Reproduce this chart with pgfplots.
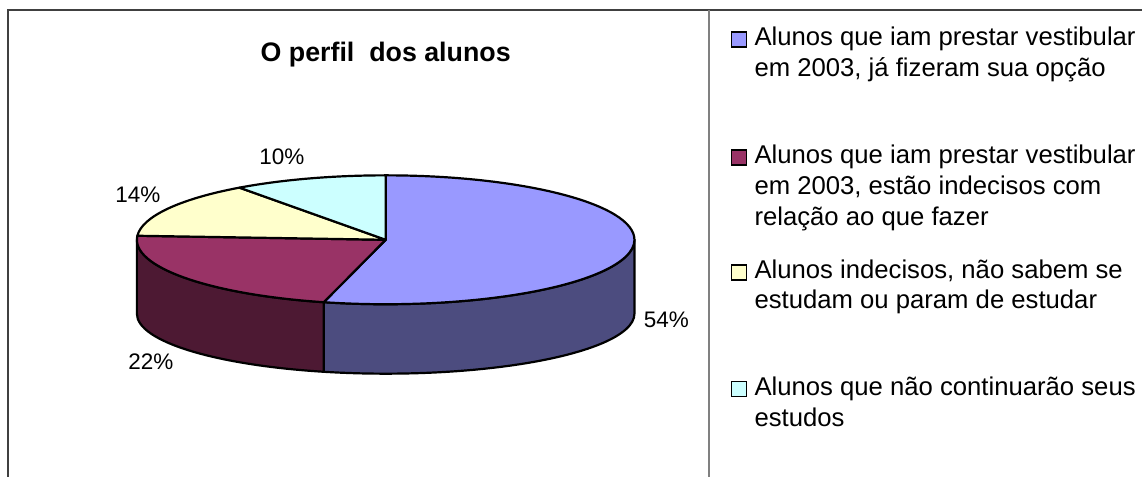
\documentclass[border=0pt]{standalone}
\usepackage{fontspec}
\setmainfont{Liberation Sans}
\usepackage{pgfplots}
\usepackage{pgfplotstable}
\pgfplotsset{compat=1.18}
\definecolor{blueTop}{HTML}{9999FF}
\definecolor{blueSide}{HTML}{4C4C7F}
\definecolor{redTop}{HTML}{993366}
\definecolor{redSide}{HTML}{4D1933}
\definecolor{yelTop}{HTML}{FFFFCC}
\definecolor{cyaTop}{HTML}{CCFFFF}
\definecolor{frameDark}{HTML}{404040}
\definecolor{frameGray}{HTML}{808080}

\pgfplotstableread{
idx value
1 54
2 22
3 14
4 10
}\piedata

\newcommand{\legfont}{\fontsize{25.7}{30}\selectfont}
\newcommand{\lblfont}{\fontsize{22.5}{26}\selectfont}
\newcommand{\ttlfont}{\fontsize{26.8}{31}\selectfont\bfseries}

\begin{document}
\begin{tikzpicture}
\pgfplotstablegetelem{0}{value}\of\piedata \edef\vA{\pgfplotsretval}
\pgfplotstablegetelem{1}{value}\of\piedata \edef\vB{\pgfplotsretval}
\pgfplotstablegetelem{2}{value}\of\piedata \edef\vC{\pgfplotsretval}
\pgfplotstablegetelem{3}{value}\of\piedata \edef\vD{\pgfplotsretval}
\pgfmathsetmacro{\tot}{\vA+\vB+\vC+\vD}
\pgfmathsetmacro{\aA}{90}
\pgfmathsetmacro{\aB}{\aA-\vA/\tot*360}
\pgfmathsetmacro{\aC}{\aB-\vB/\tot*360}
\pgfmathsetmacro{\aD}{\aC-\vC/\tot*360}
\pgfmathsetmacro{\aE}{\aD-\vD/\tot*360}
\def\cx{386}\def\cy{240}\def\ra{249}\def\rb{64.5}
\def\cyb{314}\def\rbb{60}
\begin{axis}[width=1143pt,height=477pt,scale only axis,
  xmin=0,xmax=1143,ymin=0,ymax=477,y dir=reverse,
  enlargelimits=false,hide axis,clip=false]
\addplot[draw=none] coordinates {(0,0) (1143,477)};
\path (axis cs:0,0) rectangle (axis cs:1143,477);
% frame
\draw[frameDark,line width=2pt] (axis cs:8,477) -- (axis cs:8,10) -- (axis cs:1143,10);
\draw[frameGray,line width=2pt] (axis cs:710,10) -- (axis cs:710,477);
% sides
\filldraw[fill=blueSide,draw=black,line width=2.2pt,line join=round]
  (axis cs:{\cx+\ra},\cy) -- (axis cs:{\cx+\ra},\cyb)
  arc[start angle=0,end angle=\aB,x radius=\ra pt,y radius=\rbb pt]
  -- (axis cs:{\cx+\ra*cos(\aB)},{\cy-\rb*sin(\aB)})
  arc[start angle=\aB,end angle=0,x radius=\ra pt,y radius=\rb pt] -- cycle;
\filldraw[fill=redSide,draw=black,line width=2.2pt,line join=round]
  (axis cs:{\cx-\ra},\cy) -- (axis cs:{\cx-\ra},\cyb)
  arc[start angle=-180,end angle=\aB,x radius=\ra pt,y radius=\rbb pt]
  -- (axis cs:{\cx+\ra*cos(\aB)},{\cy-\rb*sin(\aB)})
  arc[start angle=\aB,end angle=-180,x radius=\ra pt,y radius=\rb pt] -- cycle;
% tops
\filldraw[fill=blueTop,draw=black,line width=2.2pt,line join=round]
  (axis cs:\cx,\cy) -- (axis cs:{\cx+\ra*cos(\aA)},{\cy-\rb*sin(\aA)})
  arc[start angle=\aA,end angle=\aB,x radius=\ra pt,y radius=\rb pt] -- cycle;
\filldraw[fill=redTop,draw=black,line width=2.2pt,line join=round]
  (axis cs:\cx,\cy) -- (axis cs:{\cx+\ra*cos(\aB)},{\cy-\rb*sin(\aB)})
  arc[start angle=\aB,end angle=\aC,x radius=\ra pt,y radius=\rb pt] -- cycle;
\filldraw[fill=yelTop,draw=black,line width=2.2pt,line join=round]
  (axis cs:\cx,\cy) -- (axis cs:{\cx+\ra*cos(\aC)},{\cy-\rb*sin(\aC)})
  arc[start angle=\aC,end angle=\aD,x radius=\ra pt,y radius=\rb pt] -- cycle;
\filldraw[fill=cyaTop,draw=black,line width=2.2pt,line join=round]
  (axis cs:\cx,\cy) -- (axis cs:{\cx+\ra*cos(\aD)},{\cy-\rb*sin(\aD)})
  arc[start angle=\aD,end angle=\aE,x radius=\ra pt,y radius=\rb pt] -- cycle;
% labels
\node[anchor=base,inner sep=0pt,font=\lblfont] at (axis cs:667,328) {54\%};
\node[anchor=base,inner sep=0pt,font=\lblfont] at (axis cs:151,370) {22\%};
\node[anchor=base,inner sep=0pt,font=\lblfont] at (axis cs:138,203) {14\%};
\node[anchor=base,inner sep=0pt,font=\lblfont] at (axis cs:282,165) {10\%};
% title
\node[anchor=base,inner sep=0pt,font=\ttlfont] at (axis cs:386,62) {O perfil\ \ dos alunos};
% legend
\filldraw[fill=blueTop,draw=black,line width=1.6pt] (axis cs:732,32) rectangle (axis cs:747,47);
\filldraw[fill=redTop,draw=black,line width=1.6pt] (axis cs:732,150) rectangle (axis cs:747,165);
\filldraw[fill=yelTop,draw=black,line width=1.6pt] (axis cs:732,265) rectangle (axis cs:747,280);
\filldraw[fill=cyaTop,draw=black,line width=1.6pt] (axis cs:732,382) rectangle (axis cs:747,397);
\node[anchor=base west,inner sep=0pt,font=\legfont] at (axis cs:755,46) {Alunos que iam prestar vestibular};
\node[anchor=base west,inner sep=0pt,font=\legfont] at (axis cs:755,77) {em 2003, já fizeram sua opção};
\node[anchor=base west,inner sep=0pt,font=\legfont] at (axis cs:755,164) {Alunos que iam prestar vestibular};
\node[anchor=base west,inner sep=0pt,font=\legfont] at (axis cs:755,195) {em 2003, estão indecisos com};
\node[anchor=base west,inner sep=0pt,font=\legfont] at (axis cs:755,226) {relação ao que fazer};
\node[anchor=base west,inner sep=0pt,font=\legfont] at (axis cs:755,279) {Alunos indecisos, não sabem se};
\node[anchor=base west,inner sep=0pt,font=\legfont] at (axis cs:755,309) {estudam ou param de estudar};
\node[anchor=base west,inner sep=0pt,font=\legfont] at (axis cs:755,396) {Alunos que não continuarão seus};
\node[anchor=base west,inner sep=0pt,font=\legfont] at (axis cs:755,427) {estudos};
\end{axis}
\end{tikzpicture}
\end{document}
